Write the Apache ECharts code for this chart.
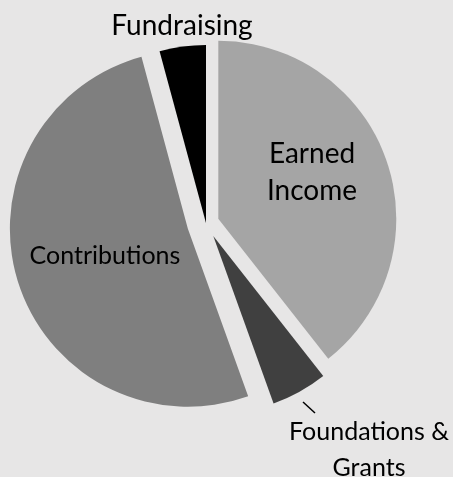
<!DOCTYPE html>
<html>
<head>
<meta charset="utf-8">
<script src="https://cdn.jsdelivr.net/npm/echarts@6/dist/echarts.min.js"></script>
<style>
  html, body { margin: 0; padding: 0; background: #e7e6e6; }
  #chart { width: 453px; height: 477px; }
</style>
</head>
<body>
<div id="chart"></div>
<script>
// data (clockwise from 12 o'clock)
var categories = ['Earned Income', 'Foundations & Grants', 'Contributions', 'Fundraising'];
var values = [39.4, 5.1, 51.3, 4.2];
var labelText = ['Earned\nIncome', 'Foundations &\nGrants', 'Contributions', 'Fundraising'];

// styles
var colors = ['#a5a5a5', '#404040', '#7f7f7f', '#000000'];
var explode = [13, 15, 19, 0];
var labelPos = [
    { x: 312, y: 172 },
    { x: 369, y: 450 },
    { x: 105, y: 256 },
    { x: 182, y: 26 }
];
var labelSize = [28, 25, 25, 28];
var lineHeights = [37, 36, 30, 30];
var fontFamily = 'Lato';
var pieCenter = [206, 223];
var pieRadius = 178;

var chart = echarts.init(document.getElementById('chart'));

function hidden() { return 'rgba(0,0,0,0)'; }

// one pie per slice so every slice can have its own explosion
var series = categories.map(function (name, k) {
    return {
        type: 'pie',
        center: pieCenter,
        radius: pieRadius,
        startAngle: 90,
        selectedMode: 'multiple',
        selectedOffset: explode[k],
        silent: true,
        emphasis: { disabled: true },
        label: { show: false },
        labelLine: { show: false },
        data: categories.map(function (n, i) {
            var c = i === k ? colors[i] : hidden();
            return {
                name: n,
                value: values[i],
                selected: i === k && explode[k] > 0,
                itemStyle: { color: c, borderWidth: 0 },
                select: { itemStyle: { color: c, borderWidth: 0 } }
            };
        })
    };
});

// transparent pie that only carries the labels
series.push({
    type: 'pie',
    center: pieCenter,
    radius: pieRadius,
    startAngle: 90,
    silent: true,
    emphasis: { disabled: true },
    itemStyle: { color: hidden() },
    labelLayout: function (p) {
        var pos = labelPos[p.dataIndex];
        var out = { x: pos.x, y: pos.y, align: 'center', verticalAlign: 'middle' };
        if (p.dataIndex === 1) {
            out.labelLinePoints = [[303, 402], [315, 413]];
        }
        return out;
    },
    data: categories.map(function (n, i) {
        return {
            name: n,
            value: values[i],
            label: {
                show: true,
                position: (i === 1 || i === 3) ? 'outside' : 'inside',
                formatter: labelText[i],
                color: '#000',
                fontFamily: fontFamily,
                fontSize: labelSize[i],
                lineHeight: lineHeights[i],
                width: 240,
                overflow: 'none'
            },
            labelLine: {
                show: i === 1,
                lineStyle: { color: '#000', width: 1.5 }
            }
        };
    })
});

chart.setOption({
    backgroundColor: '#e7e6e6',
    animation: false,
    series: series
});
</script>
</body>
</html>
